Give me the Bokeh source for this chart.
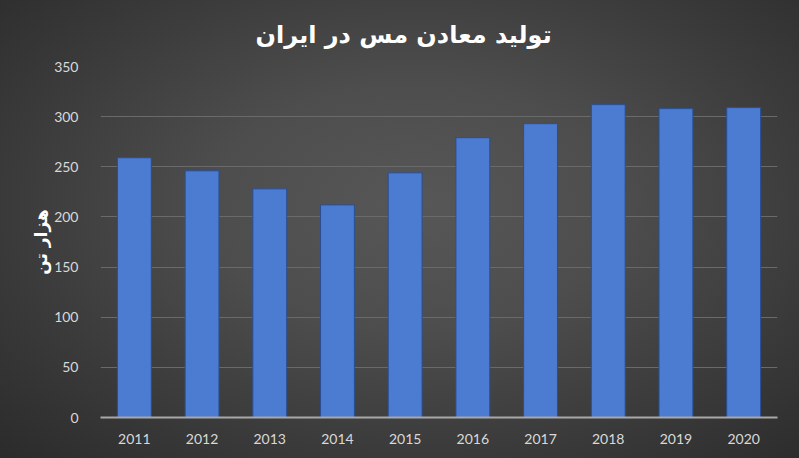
from bokeh.plotting import figure
from bokeh.embed import file_html
from bokeh.resources import INLINE
from bokeh.models import ColumnDataSource, FixedTicker

years = ["2011", "2012", "2013", "2014", "2015", "2016", "2017", "2018", "2019", "2020"]
production = [259, 246, 228, 212, 244, 279, 293, 312, 308, 309]
y_ticks = [0, 50, 100, 150, 200, 250, 300, 350]
title_text = "تولید معادن مس در ایران"
y_label = "هزار تن"

src = ColumnDataSource(data=dict(year=years, value=production))

p = figure(
    x_range=years, y_range=(0, 350),
    width=799, height=458,
    output_backend="svg", toolbar_location=None,
    min_border_left=100, min_border_right=22, min_border_bottom=41, min_border_top=66,
)
p.styles = {"background": "radial-gradient(ellipse at 52% 45%, #575757 0%, #4d4d4d 35%, #3a3a3a 70%, #2b2b2b 100%)"}
p.border_fill_alpha = 0
p.background_fill_alpha = 0
p.outline_line_color = None

p.vbar(x="year", top="value", width=0.5, source=src,
       fill_color="#4c7bd2", line_color="#2a4f92", line_width=1)

p.title.text = title_text
p.title.align = "left"
p.title.text_font = "DejaVu Sans"
p.title.text_font_style = "bold"
p.title.text_font_size = "24px"
p.title.text_color = "#ffffff"
p.title.text_line_height = 0.9
p.title.offset = 155
p.title.standoff = 36

p.yaxis.ticker = FixedTicker(ticks=y_ticks)
p.yaxis.axis_line_color = None
p.yaxis.major_tick_line_color = None
p.yaxis.minor_tick_line_color = None
p.yaxis.major_label_text_color = "#d9d9d9"
p.yaxis.major_label_text_font = "Lato"
p.yaxis.major_label_text_font_size = "14px"
p.yaxis.major_label_standoff = 16
p.yaxis.axis_label = y_label
p.yaxis.axis_label_text_font = "DejaVu Sans"
p.yaxis.axis_label_text_font_style = "bold"
p.yaxis.axis_label_text_font_size = "17px"
p.yaxis.axis_label_text_color = "#ffffff"
p.yaxis.axis_label_standoff = 0

p.xaxis.axis_line_color = "#a8a8a8"
p.xaxis.axis_line_width = 2
p.xaxis.major_tick_line_color = None
p.xaxis.minor_tick_line_color = None
p.xaxis.major_label_text_color = "#d9d9d9"
p.xaxis.major_label_text_font = "Lato"
p.xaxis.major_label_text_font_size = "14px"
p.xaxis.major_label_standoff = 10

p.xgrid.grid_line_color = None
p.ygrid.grid_line_color = "#6a6a6a"
p.ygrid.grid_line_width = 1

open("out.html", "w").write(file_html(p, INLINE))
